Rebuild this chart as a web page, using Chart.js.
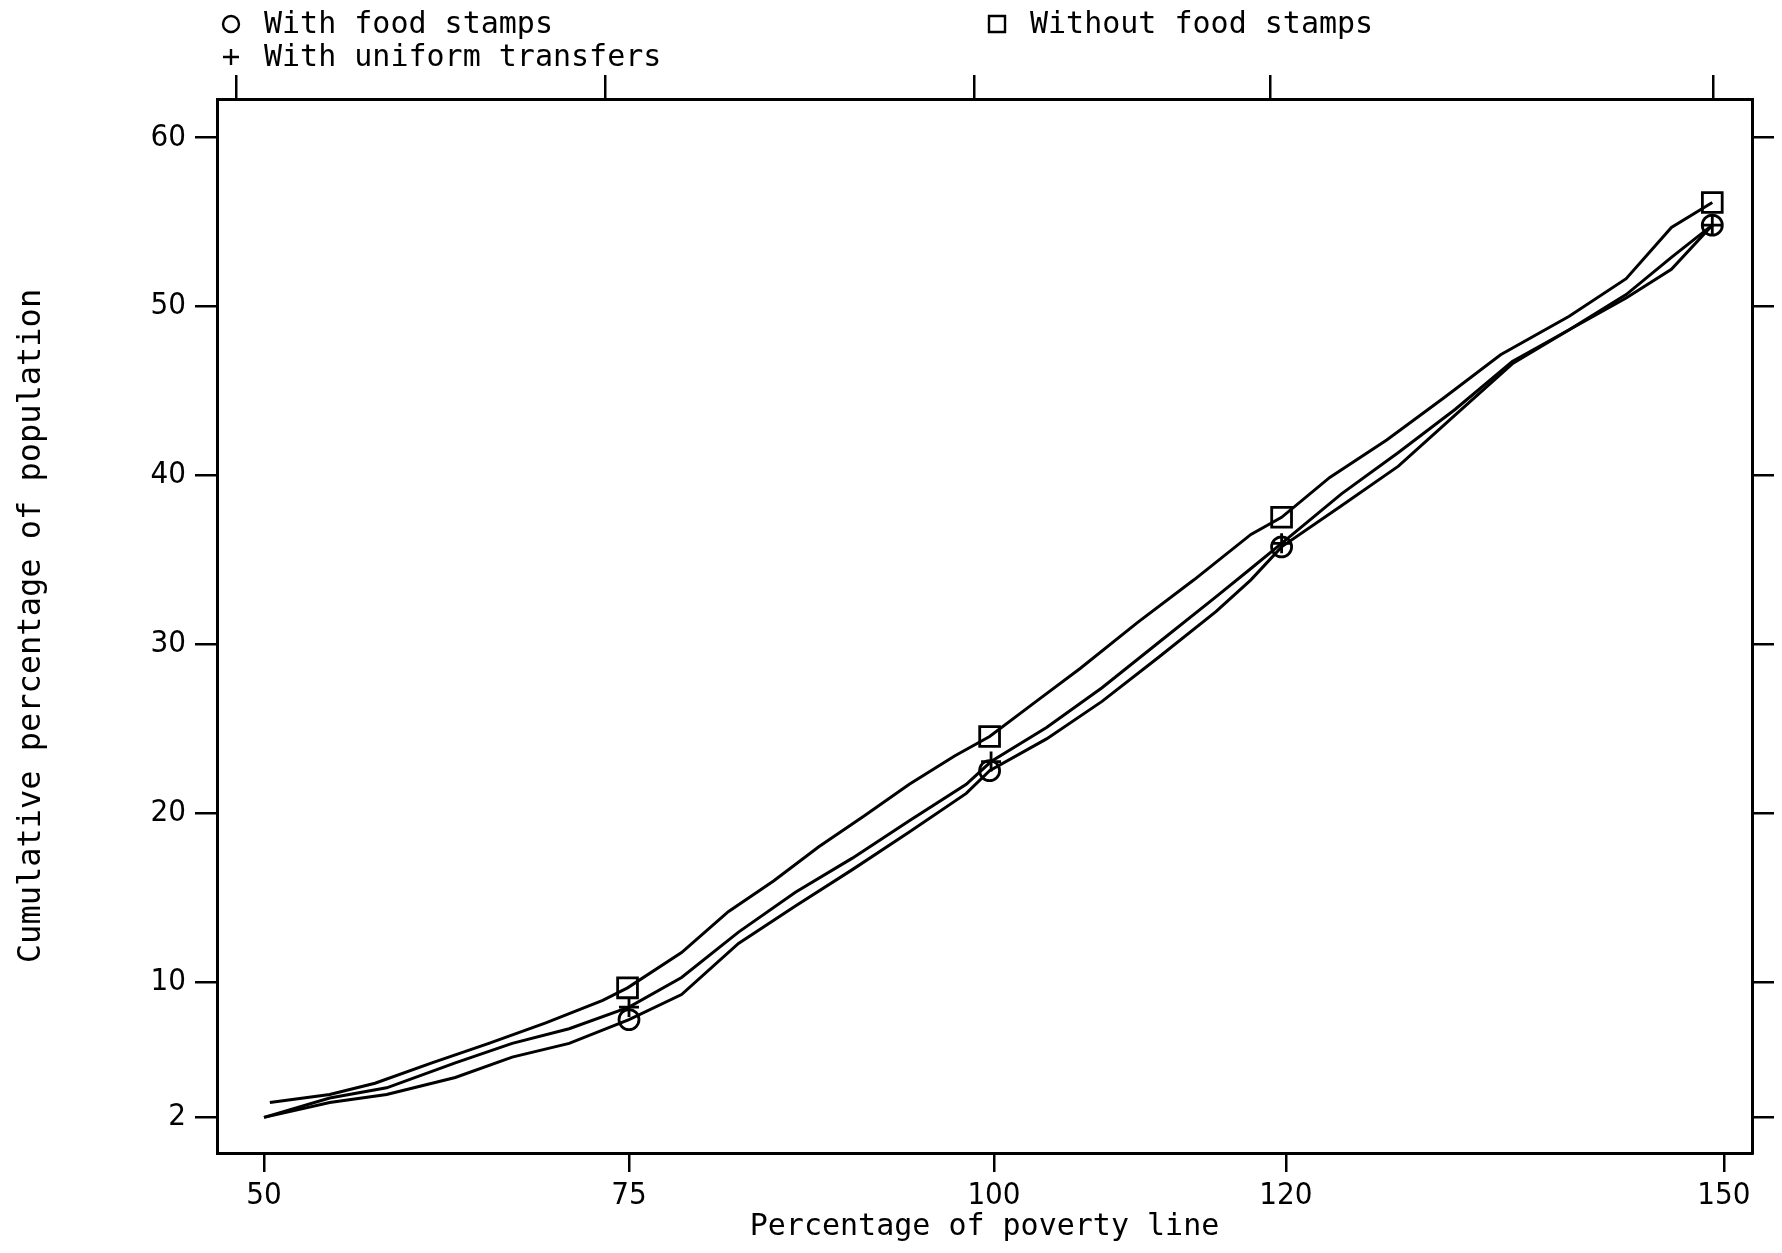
<!DOCTYPE html>
<html>
<head>
<meta charset="utf-8">
<script src="https://cdn.jsdelivr.net/npm/chart.js"></script>
<style>
  html, body { margin: 0; padding: 0; background: #fff; }
  canvas { display: block; }
</style>
</head>
<body>
<canvas id="myChart" width="1782" height="1253"></canvas>
<script>
// tick values on the axes
const xTicks = [50, 75, 100, 120, 150];
const yTicks = [2, 10, 20, 30, 40, 50, 60];

// Without food stamps (squares)
const withoutX = [50.4, 54.5, 57.6, 61.5, 65.4, 69.3, 73.2, 74.9, 78.6, 81.8, 84.9, 88.0, 91.1, 94.2, 97.3, 99.7, 102.8, 105.9, 109.8, 113.7, 117.6, 119.7, 123.0, 126.9, 130.8, 134.7, 139.4, 143.3, 146.4, 149.2];
const withoutY = [2.86, 3.33, 4.00, 5.21, 6.36, 7.57, 8.91, 9.65, 11.74, 14.16, 15.98, 18.00, 19.82, 21.70, 23.38, 24.53, 26.55, 28.56, 31.26, 33.81, 36.50, 37.51, 39.87, 42.09, 44.58, 47.14, 49.42, 51.64, 54.67, 56.15];
const withoutMarks = [74.9, 99.7, 119.7, 149.2];

// With uniform transfers (plus)
const uniformX = [50.0, 54.5, 58.4, 63.1, 67.0, 70.9, 75.0, 78.6, 82.5, 86.4, 90.3, 94.2, 98.1, 99.8, 103.6, 107.4, 111.3, 115.2, 117.6, 119.7, 123.8, 127.7, 131.6, 135.5, 139.4, 143.3, 146.4, 149.2];
const uniformY = [1.98, 3.13, 3.73, 5.21, 6.36, 7.23, 8.51, 10.26, 12.95, 15.31, 17.33, 19.55, 21.70, 23.05, 25.06, 27.42, 30.11, 32.80, 34.48, 35.97, 38.90, 41.35, 43.91, 46.73, 48.62, 50.70, 52.90, 54.81];
const uniformMarks = [75.0, 99.8, 119.7, 149.2];

// With food stamps (circles)
const foodX = [50.0, 54.5, 58.4, 63.1, 67.0, 70.9, 75.0, 78.6, 82.5, 86.4, 90.3, 94.2, 98.1, 99.7, 103.6, 107.4, 111.3, 115.2, 117.6, 119.7, 123.8, 127.7, 131.6, 135.5, 139.4, 143.3, 146.4, 149.2];
const foodY = [1.98, 2.86, 3.33, 4.34, 5.55, 6.36, 7.77, 9.25, 12.28, 14.50, 16.65, 18.87, 21.16, 22.51, 24.39, 26.61, 29.24, 31.93, 33.81, 35.76, 38.20, 40.54, 43.57, 46.60, 48.62, 50.50, 52.20, 54.81];
const foodMarks = [75.0, 99.7, 119.7, 149.2];

const monoFont = '"DejaVu Sans Mono", monospace';
const numFont = '"DejaVu Sans Condensed", "DejaVu Sans", sans-serif';

function toPoints(xs, ys) {
    return xs.map((x, i) => ({x: x, y: ys[i]}));
}

function series(label, xs, ys, marks, style, r) {
    return {
        label: label,
        data: toPoints(xs, ys),
        borderColor: '#000',
        borderWidth: 3,
        fill: false,
        tension: 0,
        pointStyle: style,
        pointRadius: xs.map(x => marks.includes(x) ? r : 0),
        pointBorderWidth: 2.8,
        pointBorderColor: '#000',
        pointBackgroundColor: 'rgba(0,0,0,0)'
    };
}

const fixedTicks = vals => scale => { scale.ticks = vals.map(v => ({value: v})); };

const tickGrid = len => ({
    display: true,
    drawOnChartArea: false,
    drawTicks: true,
    tickLength: len,
    color: '#000',
    lineWidth: 2.5
});
const frame = {display: true, color: '#000', width: 3};
const tickFont = {family: numFont, size: 31};

// legend drawn above the frame, like the original
const legendItems = [
    {text: 'With food stamps', style: 'circle', x: 231, y: 24},
    {text: 'With uniform transfers', style: 'cross', x: 231, y: 57},
    {text: 'Without food stamps', style: 'rect', x: 997, y: 24}
];

const topLegend = {
    id: 'topLegend',
    afterDraw(chart) {
        const ctx = chart.ctx;
        ctx.save();
        ctx.strokeStyle = '#000';
        ctx.fillStyle = '#000';
        ctx.lineWidth = 2.4;
        ctx.font = '30px ' + monoFont;
        ctx.textBaseline = 'middle';
        legendItems.forEach(it => {
            ctx.beginPath();
            if (it.style === 'circle') {
                ctx.arc(it.x, it.y, 8, 0, Math.PI * 2);
            } else if (it.style === 'rect') {
                ctx.rect(it.x - 8, it.y - 8, 16, 16);
            } else {
                ctx.moveTo(it.x - 8, it.y); ctx.lineTo(it.x + 8, it.y);
                ctx.moveTo(it.x, it.y - 8); ctx.lineTo(it.x, it.y + 8);
            }
            ctx.stroke();
            ctx.fillText(it.text, it.x + 33, it.y + 1);
        });
        ctx.restore();
    }
};

const config = {
    type: 'line',
    data: {
        datasets: [
            series('Without food stamps', withoutX, withoutY, withoutMarks, 'rect', 14),
            series('With uniform transfers', uniformX, uniformY, uniformMarks, 'cross', 10),
            series('With food stamps', foodX, foodY, foodMarks, 'circle', 10)
        ]
    },
    options: {
        responsive: false,
        animation: false,
        layout: {padding: 0},
        plugins: {
            legend: {display: false},
            tooltip: {enabled: false},
            title: {display: false}
        },
        scales: {
            x: {
                type: 'linear',
                position: 'bottom',
                min: 46.78,
                max: 151.92,
                afterBuildTicks: fixedTicks(xTicks),
                afterFit: s => { s.height = 100; },
                grid: tickGrid(19),
                border: frame,
                ticks: {color: '#000', font: tickFont, padding: 5, maxRotation: 0},
                title: {
                    display: true,
                    text: 'Percentage of poverty line',
                    color: '#000',
                    font: {family: monoFont, size: 30},
                    padding: {top: 0, bottom: 8}
                }
            },
            x2: {
                type: 'linear',
                position: 'top',
                min: 48.71,
                max: 152.64,
                afterBuildTicks: fixedTicks(xTicks),
                afterFit: s => { s.height = 99; },
                grid: tickGrid(24),
                border: frame,
                ticks: {display: false}
            },
            y: {
                type: 'linear',
                position: 'left',
                min: -0.13,
                max: 62.28,
                afterBuildTicks: fixedTicks(yTicks),
                afterFit: s => { s.width = 217; },
                grid: tickGrid(22),
                border: frame,
                ticks: {color: '#000', font: tickFont, padding: 9},
                title: {
                    display: true,
                    text: 'Cumulative percentage of population',
                    color: '#000',
                    font: {family: monoFont, size: 32},
                    padding: {top: 12, bottom: 0}
                }
            },
            y2: {
                type: 'linear',
                position: 'right',
                min: -0.13,
                max: 62.28,
                afterBuildTicks: fixedTicks(yTicks),
                afterFit: s => { s.width = 30; },
                grid: tickGrid(22),
                border: frame,
                ticks: {display: false}
            }
        }
    },
    plugins: [topLegend]
};

const ctx = document.getElementById('myChart').getContext('2d');
const myChart = new Chart(ctx, config);
</script>
</body>
</html>
